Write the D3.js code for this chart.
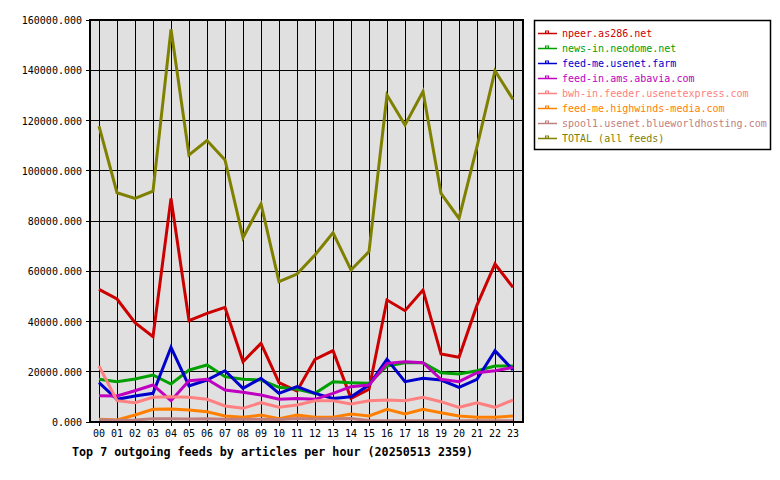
<!DOCTYPE html>
<html>
<head>
<meta charset="utf-8">
<script src="https://cdn.jsdelivr.net/npm/d3@7"></script>
<style>
  body { margin: 0; background: #fff; }
  text { font-family: "DejaVu Sans Mono", monospace; }
</style>
</head>
<body>
<div id="chart"></div>
<script>
const hours = ["00","01","02","03","04","05","06","07","08","09","10","11","12","13","14","15","16","17","18","19","20","21","22","23"];

const feedNames = [
  "npeer.as286.net",
  "news-in.neodome.net",
  "feed-me.usenet.farm",
  "feed-in.ams.abavia.com",
  "bwh-in.feeder.usenetexpress.com",
  "feed-me.highwinds-media.com",
  "spool1.usenet.blueworldhosting.com",
  "TOTAL (all feeds)"
];
const feedColors = ["#cc0000", "#00a000", "#0000cc", "#c000c0", "#ff8080", "#ff8000", "#c08080", "#808000"];

const npeer = [52800, 48950, 39500, 33950, 89000, 40300, 43250, 45650, 24000, 31300, 15650, 12300, 24950, 28400, 9400, 13000, 48550, 44300, 52550, 27050, 25750, 46500, 62900, 53600];
const neodome = [16980, 16050, 17100, 18700, 15120, 20700, 22690, 18040, 16980, 16700, 13800, 13000, 11400, 16050, 15650, 15380, 22300, 23600, 23600, 19600, 19100, 20400, 22300, 22300];
const usenetFarm = [15650, 9030, 10350, 11400, 29730, 14330, 16700, 20400, 13400, 17400, 11400, 14050, 11400, 9400, 10080, 14700, 24950, 16050, 17400, 16700, 13800, 17000, 28400, 20700];
const abavia = [10480, 10350, 12460, 14730, 8480, 16450, 17000, 12740, 11800, 10750, 9030, 9400, 9030, 11400, 14050, 14700, 23350, 24000, 23600, 17000, 16050, 19600, 20400, 21750];
const usenetexpress = [22300, 8480, 7690, 9830, 10080, 9830, 9030, 6370, 5440, 7690, 5840, 6770, 8480, 8480, 7160, 8480, 8760, 8480, 9830, 8090, 5840, 7690, 5840, 8760];
const highwinds = [1060, 800, 2790, 5040, 5170, 4780, 4100, 2390, 1860, 2790, 1330, 2790, 1860, 1860, 3180, 2390, 5040, 3180, 5040, 3710, 2390, 1860, 1860, 2390];
const blueworld = [900, 700, 800, 1300, 1300, 1200, 1300, 1100, 1100, 1100, 1000, 1400, 1200, 1300, 1400, 600, 500, 500, 500, 500, 500, 500, 500, 500];
const total = [117800, 91260, 89000, 91900, 156300, 106300, 112000, 104300, 73350, 86800, 55850, 58900, 66500, 75350, 60500, 67800, 130150, 118200, 131500, 91000, 81000, 109600, 139800, 128400];

const yTicks = [0, 20000, 40000, 60000, 80000, 100000, 120000, 140000, 160000];
const title = "Top 7 outgoing feeds by articles per hour (20250513 2359)";

const seriesData = [npeer, neodome, usenetFarm, abavia, usenetexpress, highwinds, blueworld, total];

const width = 780, height = 480;
const plot = { left: 90, top: 20, right: 523, bottom: 422 };

const svg = d3.select("#chart").append("svg")
  .attr("width", width)
  .attr("height", height)
  .style("background-color", "#fff");

const x = d3.scaleLinear().domain([-0.5, 23.5]).range([plot.left, plot.left + 432]);
const y = d3.scaleLinear().domain([0, 160000]).range([plot.bottom, plot.top]);

// plot background
svg.append("rect")
  .attr("x", plot.left).attr("y", plot.top)
  .attr("width", plot.right - plot.left).attr("height", plot.bottom - plot.top)
  .attr("fill", "#e0e0e0");

// grid
const grid = svg.append("g").attr("shape-rendering", "crispEdges").attr("stroke", "#000");
grid.selectAll("line.h").data(yTicks).enter().append("line")
  .attr("x1", plot.left - 4).attr("x2", plot.right)
  .attr("y1", d => y(d)).attr("y2", d => y(d));
grid.selectAll("line.v").data(hours).enter().append("line")
  .attr("x1", (d, i) => x(i)).attr("x2", (d, i) => x(i))
  .attr("y1", plot.top).attr("y2", plot.bottom + 4);

// y labels
svg.selectAll("text.ylab").data(yTicks).enter().append("text")
  .attr("x", plot.left - 8).attr("y", d => y(d) + 4)
  .attr("text-anchor", "end")
  .attr("font-size", 10)
  .text(d => d3.format(".3f")(d));

// x labels
svg.selectAll("text.xlab").data(hours).enter().append("text")
  .attr("x", (d, i) => x(i)).attr("y", 437)
  .attr("text-anchor", "middle")
  .attr("font-size", 10)
  .text(d => d);

// lines
const line = d3.line().x((d, i) => x(i)).y(d => y(d));
svg.selectAll("path.series").data(seriesData).enter().append("path")
  .attr("d", line)
  .attr("fill", "none")
  .attr("stroke", (d, i) => feedColors[i])
  .attr("stroke-width", 3);

// frame
svg.append("rect")
  .attr("x", plot.left).attr("y", plot.top)
  .attr("width", plot.right - plot.left).attr("height", plot.bottom - plot.top)
  .attr("fill", "none").attr("stroke", "#000").attr("stroke-width", 1.5)
  .attr("shape-rendering", "crispEdges");

// legend
const legend = svg.append("g");
legend.append("rect")
  .attr("x", 534.5).attr("y", 20.5).attr("width", 236).attr("height", 129)
  .attr("fill", "#fff").attr("stroke", "#000").attr("stroke-width", 1.5);
const item = legend.selectAll("g.item").data(feedNames).enter().append("g")
  .attr("transform", (d, i) => `translate(0,${33.5 + i * 15})`);
item.append("line")
  .attr("x1", 538).attr("x2", 557).attr("y1", 0).attr("y2", 0)
  .attr("stroke", (d, i) => feedColors[i]).attr("stroke-width", 1.5);
item.append("rect")
  .attr("x", 545.5).attr("y", -2.5).attr("width", 3).attr("height", 2)
  .attr("fill", "#fff").attr("stroke", (d, i) => feedColors[i]).attr("stroke-width", 1);
item.append("text")
  .attr("x", 562).attr("y", 3.5)
  .attr("font-size", 10)
  .attr("fill", (d, i) => feedColors[i])
  .text(d => d);

// title
svg.append("text")
  .attr("x", 72).attr("y", 456)
  .attr("font-size", 11.7).attr("font-weight", "bold")
  .text(title);
</script>
</body>
</html>
